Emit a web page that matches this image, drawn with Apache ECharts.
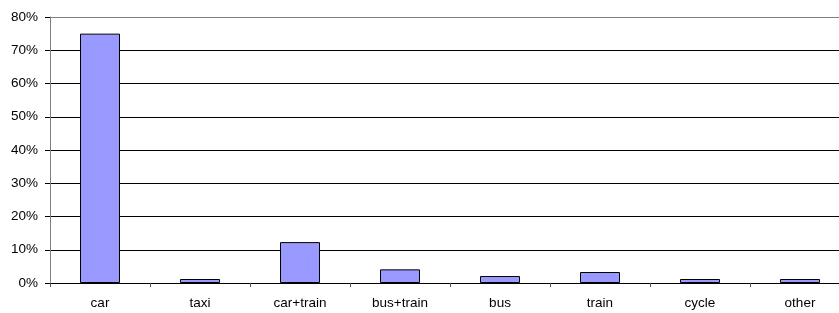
<!DOCTYPE html>
<html>
<head>
<meta charset="utf-8">
<script src="https://cdn.jsdelivr.net/npm/echarts@6/dist/echarts.min.js"></script>
<style>
  html, body { margin: 0; padding: 0; background: #fff; overflow: hidden; }
  /* plot runs past the right edge of the picture, as in the original */
  #chart { width: 850px; height: 313px; }
</style>
</head>
<body>
<div id="chart"></div>
<script>
// data (share of trips, %)
const categories = ["car", "taxi", "car+train", "bus+train", "bus", "train", "cycle", "other"];
const shares = [75, 1.2, 12.3, 4.1, 2.1, 3.3, 1.2, 1.2];

const chart = echarts.init(document.getElementById("chart"));

// last split line (80%) is the grey plot border
const splitColors = ["#000", "#000", "#000", "#000", "#000", "#000", "#000", "#000", "#808080"];

chart.setOption({
  animation: false,
  textStyle: { fontFamily: "Liberation Sans, Arial, sans-serif" },
  grid: { left: 50, right: 0, top: 17, bottom: 30 },
  xAxis: {
    type: "category",
    data: categories,
    axisLine: { lineStyle: { color: "#000", width: 1 } },
    axisTick: { show: true, length: 4, lineStyle: { color: "#555" } },
    axisLabel: { color: "#000", fontSize: 13.5, margin: 13 }
  },
  yAxis: {
    type: "value",
    min: 0,
    max: 80,
    interval: 10,
    axisLine: { show: true, lineStyle: { color: "#808080", width: 1 } },
    axisTick: { show: true, length: 5, lineStyle: { color: "#000" } },
    axisLabel: {
      color: "#000",
      fontSize: 13.5,
      margin: 12,
      formatter: v => v + "%"
    },
    splitLine: { show: true, lineStyle: { color: splitColors, width: 1 } }
  },
  series: [{
    type: "bar",
    data: shares,
    barWidth: "40%",
    itemStyle: { color: "#9999ff", borderColor: "#000", borderWidth: 1 }
  }]
});
</script>
</body>
</html>
